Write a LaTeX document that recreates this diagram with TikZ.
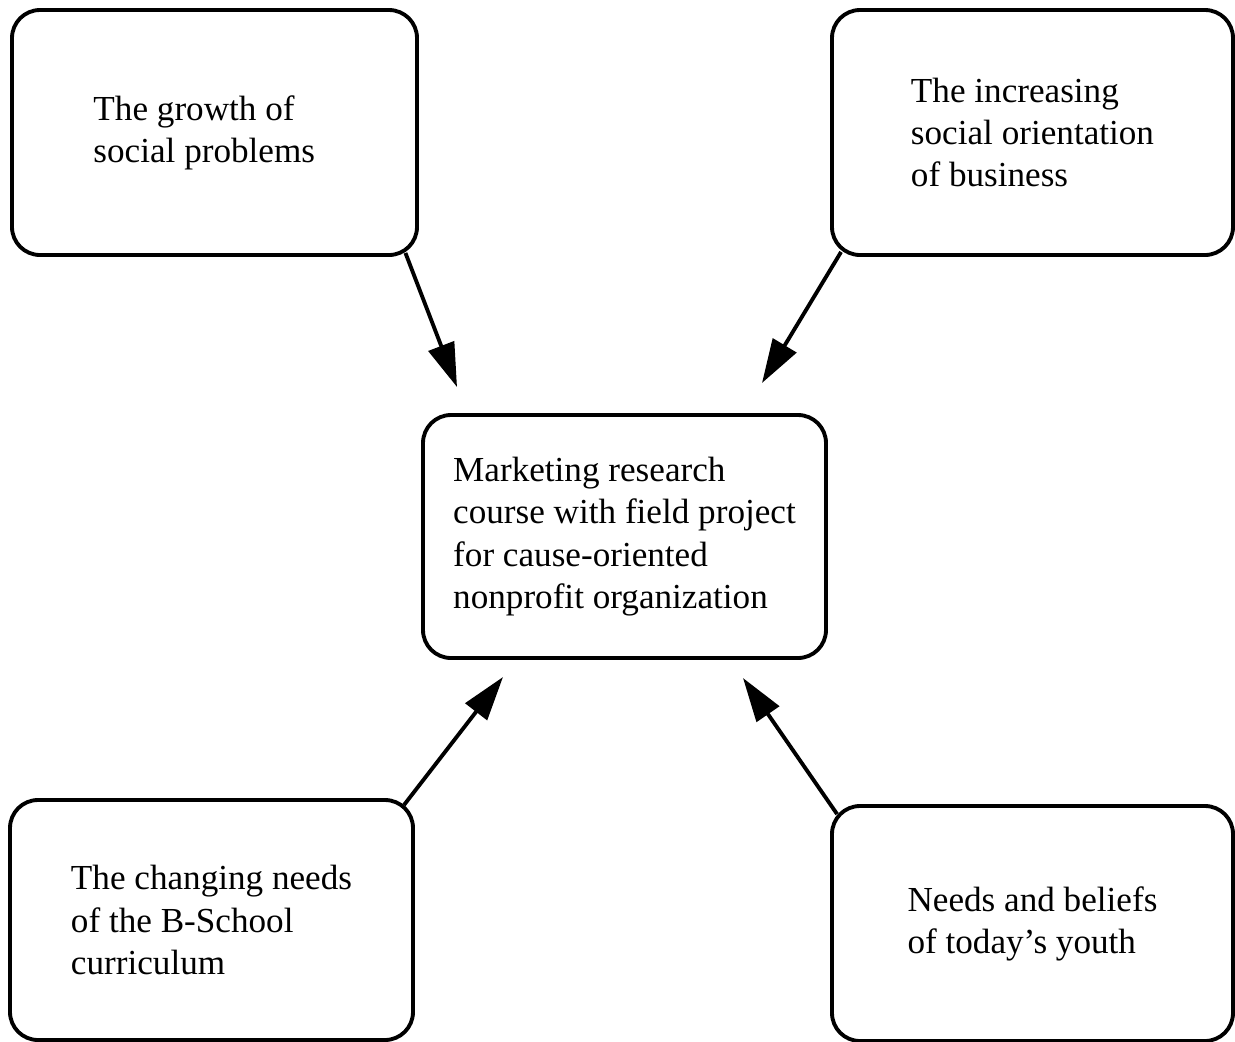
\documentclass[tikz,border=0pt]{standalone}
\usepackage{fontspec}
\setmainfont{Liberation Serif}
\usetikzlibrary{arrows.meta}

\tikzset{
  factor/.style={draw, rounded corners=2.8mm, line width=1.1pt, align=left,
    minimum width=4.03cm, minimum height=2.43cm,
    font=\fontsize{10pt}{12pt}\selectfont},
  push/.style={-{Triangle[length=4.4mm,width=2.7mm]}, line width=1.1pt}
}

\begin{document}
\begin{tikzpicture}
    \useasboundingbox (0,0) rectangle (12.35,-10.41);

    \node[factor, minimum width=4.05cm, minimum height=2.45cm, text width=2.42cm, align=flush left] (growth) at (2.145,-1.325) {The growth of\\social problems};
    \node[factor, minimum width=4.01cm, minimum height=2.45cm] (business) at (10.325,-1.325) {The increasing\\social orientation\\of business};
    \node[factor] (course) at (6.245,-5.365) {Marketing research\\course with field project\\for cause-oriented\\nonprofit organization};
    \node[factor, minimum height=2.40cm] (curriculum) at (2.115,-9.20) {The changing needs\\of the B-School\\curriculum};
    \node[factor, minimum width=4.01cm, minimum height=2.35cm] (youth) at (10.325,-9.235) {Needs and beliefs\\of today's youth};

    \coordinate (growth-in) at (4.57,-3.87);
    \coordinate (business-in) at (7.62,-3.83);
    \coordinate (curriculum-in) at (5.03,-6.77);
    \coordinate (youth-in) at (7.43,-6.78);

    \draw[push] ([shift={(-0.135,0.04)}]growth.south east) -- (growth-in);
    \draw[push] ([shift={(0.11,0.05)}]business.south west) -- (business-in);
    \draw[push] ([shift={(-0.11,-0.07)}]curriculum.north east) -- (curriculum-in);
    \draw[push] ([shift={(0.07,-0.10)}]youth.north west) -- (youth-in);
\end{tikzpicture}
\end{document}
